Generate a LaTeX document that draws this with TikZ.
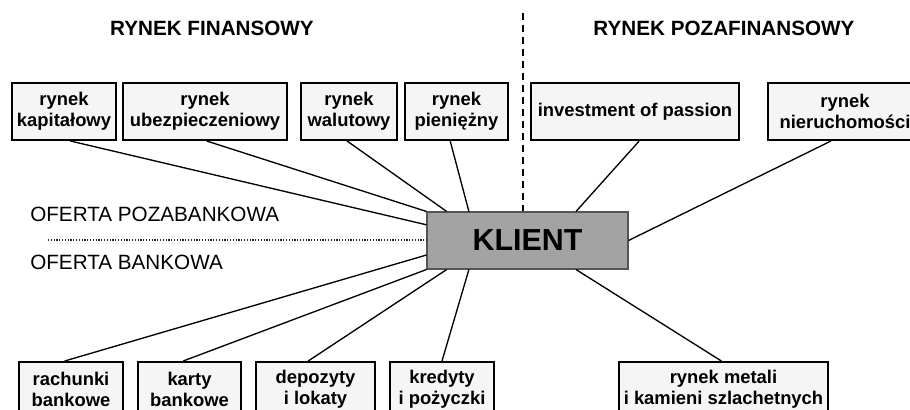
\documentclass[tikz,border=0pt]{standalone}
\usepackage{fontspec}
\setmainfont{Liberation Sans}
\usetikzlibrary{calc}
\definecolor{boxfill}{HTML}{F5F5F5}
\definecolor{klientfill}{HTML}{A3A3A3}
\definecolor{klientdraw}{HTML}{555555}
\tikzset{
  mbox/.style={draw=black, line width=1.5pt, fill=boxfill, align=center, inner sep=0pt,
    font=\fontsize{13.8pt}{15.8pt}\selectfont\bfseries},
  link/.style={line width=1pt, black},
  title/.style={font=\fontsize{15.5pt}{18pt}\selectfont\bfseries, inner sep=0pt},
  offer/.style={font=\fontsize{15.5pt}{18pt}\selectfont, inner sep=0pt, anchor=west},
}
\begin{document}
\begin{tikzpicture}[x=0.75pt,y=-0.75pt]
\clip (0,0) rectangle (910,410);
\fill[white] (0,0) rectangle (910,410);

% titles
\node[title] (tfin) at (212,28) {RYNEK FINANSOWY};
\node[title] (tpoz) at (724,28) {RYNEK POZAFINANSOWY};

% top boxes
\node[mbox, minimum width={104*0.75pt}, minimum height={57*0.75pt}] (kap) at (64,111.5) {rynek\\kapitałowy};
\node[mbox, minimum width={164*0.75pt}, minimum height={57*0.75pt}] (ubez) at (205,111.5) {rynek\\ubezpieczeniowy};
\node[mbox, minimum width={96*0.75pt}, minimum height={57*0.75pt}] (walut) at (349,111.5) {rynek\\walutowy};
\node[mbox, minimum width={103*0.75pt}, minimum height={57*0.75pt}] (pien) at (456.5,111.5) {rynek\\pieniężny};
\node[mbox, minimum width={208*0.75pt}, minimum height={57*0.75pt}] (inv) at (635,111.5) {investment of passion};
\node[mbox, minimum width={154*0.75pt}, minimum height={57*0.75pt}] (nier) at (845,111.5) {rynek\\nieruchomości};

% bottom boxes
\node[mbox, minimum width={104*0.75pt}, minimum height={54*0.75pt}] (rach) at (71,389) {rachunki\\bankowe};
\node[mbox, minimum width={103*0.75pt}, minimum height={54*0.75pt}] (karty) at (189.5,389) {karty\\bankowe};
\node[mbox, minimum width={119*0.75pt}, minimum height={54*0.75pt}] (depo) at (315.5,389) {depozyty\\i lokaty};
\node[mbox, minimum width={104*0.75pt}, minimum height={54*0.75pt}] (kred) at (442,389) {kredyty\\i pożyczki};
\node[mbox, minimum width={209*0.75pt}, minimum height={54*0.75pt}] (metal) at (723.5,389) {rynek metali\\i kamieni szlachetnych};

% client
\node[draw=klientdraw, line width=0.8pt, fill=klientfill, minimum width={201*0.75pt}, minimum height={57*0.75pt},
  font=\fontsize{22.8pt}{26pt}\selectfont\bfseries, inner sep=0pt] (K) at (527.5,240.5) {KLIENT};

% offers
\node[offer] (opoz) at (30,214.5) {OFERTA POZABANKOWA};
\node[offer] (obank) at (30,262.5) {OFERTA BANKOWA};

% separators
\coordinate (dtop) at (523,13);
\draw[line width=1.5pt, dash pattern=on 5.25pt off 3.75pt] (dtop) -- (dtop |- K.north);
\coordinate (dleft) at (48,240);
\draw[line width=1pt, black!85, dash pattern=on 0.9pt off 1.2pt] (dleft) -- (dleft -| K.west);

% connectors top
\draw[link] ($(kap.south west)!0.56!(kap.south east)$) -- ($(K.north west)!0.23!(K.south west)$);
\draw[link] ($(ubez.south west)!0.51!(ubez.south east)$) -- (K.north west);
\draw[link] ($(walut.south west)!0.48!(walut.south east)$) -- ($(K.north west)!0.10!(K.north east)$);
\draw[link] ($(pien.south west)!0.44!(pien.south east)$) -- ($(K.north west)!0.21!(K.north east)$);
\draw[link] ($(inv.south west)!0.52!(inv.south east)$) -- ($(K.north west)!0.74!(K.north east)$);
\draw[link] ($(nier.south west)!0.41!(nier.south east)$) -- (K.east);

% connectors bottom
\draw[link] ($(K.north west)!0.75!(K.south west)$) -- ($(rach.north west)!0.44!(rach.north east)$);
\draw[link] (K.south west) -- ($(karty.north west)!0.44!(karty.north east)$);
\draw[link] ($(K.south west)!0.10!(K.south east)$) -- ($(depo.north west)!0.44!(depo.north east)$);
\draw[link] ($(K.south west)!0.21!(K.south east)$) -- (kred.north);
\draw[link] ($(K.south west)!0.74!(K.south east)$) -- ($(metal.north west)!0.49!(metal.north east)$);
\end{tikzpicture}
\end{document}
